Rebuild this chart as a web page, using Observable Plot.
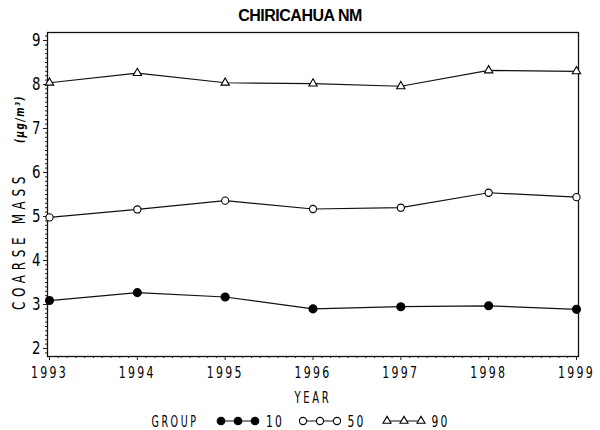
<!DOCTYPE html>
<html>
<head>
<meta charset="utf-8">
<script src="https://cdn.jsdelivr.net/npm/d3@7"></script>
<script src="https://cdn.jsdelivr.net/npm/@observablehq/plot@0.6"></script>
<style>
  html, body { margin: 0; padding: 0; background: #fff; }
  #chart svg { display: block; }
</style>
</head>
<body>
<div id="chart"></div>
<script>
const title = "CHIRICAHUA NM";
const years = [1993, 1994, 1995, 1996, 1997, 1998, 1999];
const groups = ["10", "50", "90"];
const p10 = [3.09, 3.27, 3.17, 2.90, 2.95, 2.97, 2.89];
const p50 = [4.98, 5.16, 5.36, 5.17, 5.20, 5.54, 5.44];
const p90 = [8.04, 8.26, 8.04, 8.02, 7.96, 8.32, 8.30];
const yTicks = [2, 3, 4, 5, 6, 7, 8, 9];
const yLabel = "COARSE MASS";
const yUnit = "(μg/m³)";
const xLabel = "YEAR";
const legendTitle = "GROUP";

const minorY = d3.range(19, 92).map(v => v / 10).filter(v => !Number.isInteger(v));
const minorX = d3.range(19930, 19991).map(v => v / 10).filter(v => !Number.isInteger(v));

const rows = (vals, g) => years.map((yr, i) => ({year: yr, value: vals[i], group: g}));
const d10 = rows(p10, "10"), d50 = rows(p50, "50"), d90 = rows(p90, "90");

const font = "DejaVu Sans Condensed, DejaVu Sans, sans-serif";

const chart = Plot.plot({
  width: 600,
  height: 430,
  marginLeft: 47,
  marginRight: 22,
  marginTop: 32,
  marginBottom: 74,
  style: {background: "#fff", color: "#000", fontFamily: font, overflow: "visible"},
  x: {domain: [1992.977, 1999.023], label: null},
  y: {domain: [1.818, 9.182], label: null},
  marks: [
    Plot.frame({stroke: "#111", strokeWidth: 1.3}),
    Plot.axisY(minorY, {tickSize: 2, text: null, stroke: "#222"}),
    Plot.axisY(yTicks, {tickSize: 4, tickPadding: 3, fontSize: 17.5, stroke: "#222", fill: "#000"}),
    Plot.axisX(minorX, {tickSize: 2, text: null, stroke: "#222"}),
    Plot.axisX(years, {tickSize: 4, tickPadding: 6, fontSize: 16, tickFormat: d => String(d), stroke: "#222", fill: "#000"}),
    Plot.line(d10, {x: "year", y: "value", stroke: "#111", strokeWidth: 1.2}),
    Plot.line(d50, {x: "year", y: "value", stroke: "#111", strokeWidth: 1.2}),
    Plot.line(d90, {x: "year", y: "value", stroke: "#111", strokeWidth: 1.2}),
    Plot.dot(d10, {x: "year", y: "value", r: 3.8, fill: "#000", stroke: "#000"}),
    Plot.dot(d50, {x: "year", y: "value", r: 3.6, fill: "#fff", stroke: "#000", strokeWidth: 1.1}),
    Plot.dot(d90, {x: "year", y: "value", symbol: "triangle", r: 3.1, fill: "#fff", stroke: "#000", strokeWidth: 1.1})
  ]
});
document.getElementById("chart").appendChild(chart);

const svg = d3.select(chart);
function fit(sel, len, ls) {
  sel.attr("letter-spacing", ls + "px")
     .attr("textLength", len)
     .attr("lengthAdjust", "spacingAndGlyphs");
  return sel;
}
fit(svg.selectAll('g[aria-label="x-axis tick label"] text'), 37, 3);
fit(svg.selectAll('g[aria-label="y-axis tick label"] text'), 8.5, 0);

// Title
svg.append("text")
  .attr("x", 300).attr("y", 21)
  .attr("text-anchor", "middle")
  .attr("font-family", "Liberation Sans, Arial, sans-serif")
  .attr("font-weight", "bold")
  .attr("font-size", 16)
  .attr("letter-spacing", "-0.5px")
  .attr("fill", "#000")
  .text(title);

// Y axis label
fit(svg.append("text")
  .attr("transform", "translate(24.5,241) rotate(-90)")
  .attr("text-anchor", "middle")
  .attr("font-family", font)
  .attr("font-size", 17)
  .attr("fill", "#000")
  .text(yLabel), 138, 6);
fit(svg.append("text")
  .attr("transform", "translate(24,119) rotate(-90)")
  .attr("text-anchor", "middle")
  .attr("font-family", font)
  .attr("font-size", 13)
  .attr("font-weight", "bold")
  .attr("font-style", "italic")
  .attr("fill", "#000")
  .text(yUnit), 48, 2);

// X axis label
fit(svg.append("text")
  .attr("x", 313).attr("y", 403)
  .attr("text-anchor", "middle")
  .attr("font-family", font)
  .attr("font-size", 16.5)
  .attr("fill", "#000")
  .text(xLabel), 37, 4);

// Legend
const ly = 421;
const lg = svg.append("g").attr("font-family", font).attr("font-size", 16.5).attr("fill", "#000")
  .attr("text-anchor", "middle");
fit(lg.append("text").attr("x", 175).attr("y", ly + 6).text(legendTitle), 47, 4);
const items = [
  {g: groups[0], x0: 221, tx: 275, sym: "fill"},
  {g: groups[1], x0: 303, tx: 356.5, sym: "open"},
  {g: groups[2], x0: 387, tx: 440.5, sym: "tri"}
];
items.forEach(it => {
  const xs = [it.x0, it.x0 + 17, it.x0 + 34];
  lg.append("line").attr("x1", xs[0]).attr("x2", xs[2]).attr("y1", ly).attr("y2", ly)
    .attr("stroke", "#111").attr("stroke-width", 1.2);
  xs.forEach(x => {
    if (it.sym === "tri") {
      lg.append("path").attr("transform", `translate(${x},${ly})`)
        .attr("d", d3.symbol(d3.symbolTriangle, 28)())
        .attr("fill", "#fff").attr("stroke", "#000").attr("stroke-width", 1.1);
    } else {
      lg.append("circle").attr("cx", x).attr("cy", ly).attr("r", it.sym === "fill" ? 3.8 : 3.6)
        .attr("fill", it.sym === "fill" ? "#000" : "#fff").attr("stroke", "#000").attr("stroke-width", 1.1);
    }
  });
  fit(lg.append("text").attr("x", it.tx).attr("y", ly + 6).text(it.g), 18, 3);
});
</script>
</body>
</html>
